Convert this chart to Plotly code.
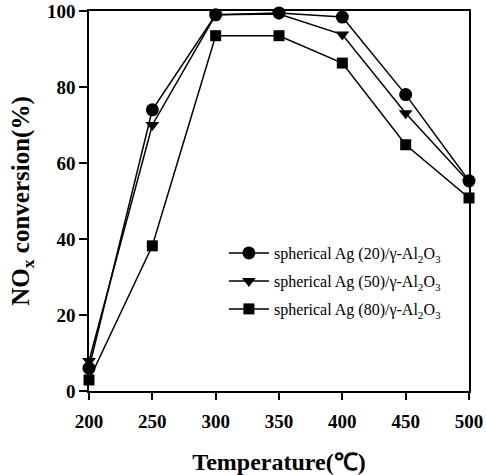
import plotly.graph_objects as go

temps = [200, 250, 300, 350, 400, 450, 500]
ag20 = [6, 74, 99, 99.5, 98.4, 78, 55.3]
ag50 = [7.9, 70, 99, 99.2, 93.8, 73.1, 55]
ag80 = [2.9, 38.2, 93.5, 93.5, 86.3, 64.8, 50.8]
names = ["spherical Ag (20)/γ-Al<sub>2</sub>O<sub>3</sub>",
         "spherical Ag (50)/γ-Al<sub>2</sub>O<sub>3</sub>",
         "spherical Ag (80)/γ-Al<sub>2</sub>O<sub>3</sub>"]
symbols = ["circle", "triangle-down", "square"]
sizes = [13, 12, 11]
legends = ["legend", "legend2", "legend3"]

font = "Liberation Serif"
fig = go.Figure()
for ys, nm, sym, sz, lg in zip([ag20, ag50, ag80], names, symbols, sizes, legends):
    fig.add_trace(go.Scatter(x=temps, y=ys, name=nm, mode="lines+markers",
                             line=dict(color="black", width=1.5),
                             marker=dict(symbol=sym, size=sz, color="black"),
                             cliponaxis=False, legend=lg))

leg_common = dict(xanchor="left", yanchor="middle", bgcolor="rgba(0,0,0,0)",
                  font=dict(size=16, family=font, color="black"), itemwidth=40)
fig.update_layout(
    width=486, height=475,
    margin=dict(l=89, r=17, t=11, b=84),
    paper_bgcolor="white", plot_bgcolor="white",
    font=dict(family=font, color="black"),
    showlegend=True,
    legend=dict(x=0.355, y=(391 - 253) / 380, **leg_common),
    legend2=dict(x=0.355, y=(391 - 281) / 380, **leg_common),
    legend3=dict(x=0.355, y=(391 - 309) / 380, **leg_common),
    xaxis=dict(range=[200, 500], tickvals=temps, showgrid=False, zeroline=False,
               showline=True, linecolor="black", linewidth=1.5, mirror=True,
               ticks="outside", ticklen=7, tickcolor="black", tickwidth=1.5,
               automargin=False, ticklabelstandoff=5,
               tickfont=dict(size=19, family=font, weight="bold", color="black"),
               title=dict(text="<b>Temperature(℃)</b>", font=dict(size=24, family=font), standoff=24)),
    yaxis=dict(range=[0, 100], tickvals=[0, 20, 40, 60, 80, 100], showgrid=False, zeroline=False,
               showline=True, linecolor="black", linewidth=1.5, mirror=True,
               ticks="outside", ticklen=8, tickcolor="black", tickwidth=1.5,
               automargin=False,
               tickfont=dict(size=19, family=font, weight="bold", color="black"),
               title=dict(text="<b>NO<sub>x</sub> conversion(%)</b>", font=dict(size=25, family=font), standoff=10)),
)
fig.write_html("out.html")
